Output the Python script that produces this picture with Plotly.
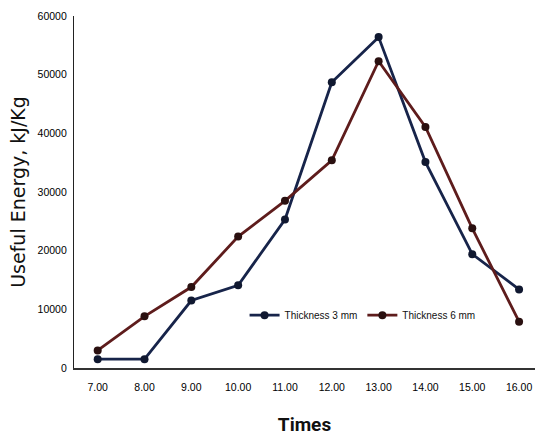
import plotly.graph_objects as go

times = ["7.00", "8.00", "9.00", "10.00", "11.00", "12.00", "13.00", "14.00", "15.00", "16.00"]
thick_3mm = [1500, 1500, 11500, 14100, 25300, 48700, 56400, 35100, 19400, 13400]
thick_6mm = [3000, 8800, 13800, 22400, 28500, 35400, 52300, 41100, 23800, 7900]
y_ticks = [0, 10000, 20000, 30000, 40000, 50000, 60000]

fig = go.Figure()
fig.add_trace(go.Scatter(
    x=list(range(len(times))), y=thick_3mm, name="Thickness 3 mm",
    mode="lines+markers",
    line=dict(color="#17244a", width=2.8),
    marker=dict(color="#101830", size=8)))
fig.add_trace(go.Scatter(
    x=list(range(len(times))), y=thick_6mm, name="Thickness 6 mm",
    mode="lines+markers",
    line=dict(color="#5e1c1c", width=2.8),
    marker=dict(color="#2a1010", size=8)))

tick_font = dict(family="Liberation Sans, Arial, sans-serif", size=10.5, color="#000")

fig.update_layout(
    width=535, height=436,
    margin=dict(l=74, r=0, t=16, b=68, autoexpand=False),
    plot_bgcolor="white", paper_bgcolor="white",
    showlegend=True,
    legend=dict(orientation="h", x=0.37, y=0.15, xanchor="left", yanchor="middle",
                font=dict(family="Liberation Sans, Arial, sans-serif", size=10, color="#111"),
                bgcolor="rgba(0,0,0,0)", itemwidth=30, tracegroupgap=0),
    xaxis=dict(
        range=[-0.506, 9.34], automargin=False,
        tickmode="array", tickvals=list(range(len(times))), ticktext=times,
        showgrid=False, zeroline=False,
        showline=True, linecolor="#333", linewidth=2,
        ticks="", tickfont=tick_font, ticklabelstandoff=8,
        title=dict(text="<b>Times</b>", font=dict(family="Roboto, Liberation Sans, sans-serif", size=19, color="#111"), standoff=28),
    ),
    yaxis=dict(
        range=[0, 60000], automargin=False,
        tickmode="array", tickvals=y_ticks, ticktext=[str(v) for v in y_ticks],
        showgrid=False, zeroline=False,
        showline=True, linecolor="#222", linewidth=1.2,
        ticks="", tickfont=tick_font, ticklabelstandoff=4,
        title=dict(text="Useful Energy, kJ/Kg", font=dict(family="DejaVu Sans, sans-serif", size=19, color="#111"), standoff=6),
    ),
)

fig.write_html("out.html", config={"displayModeBar": False},
               post_script="document.body.style.margin='0px';document.body.style.overflow='hidden';")
